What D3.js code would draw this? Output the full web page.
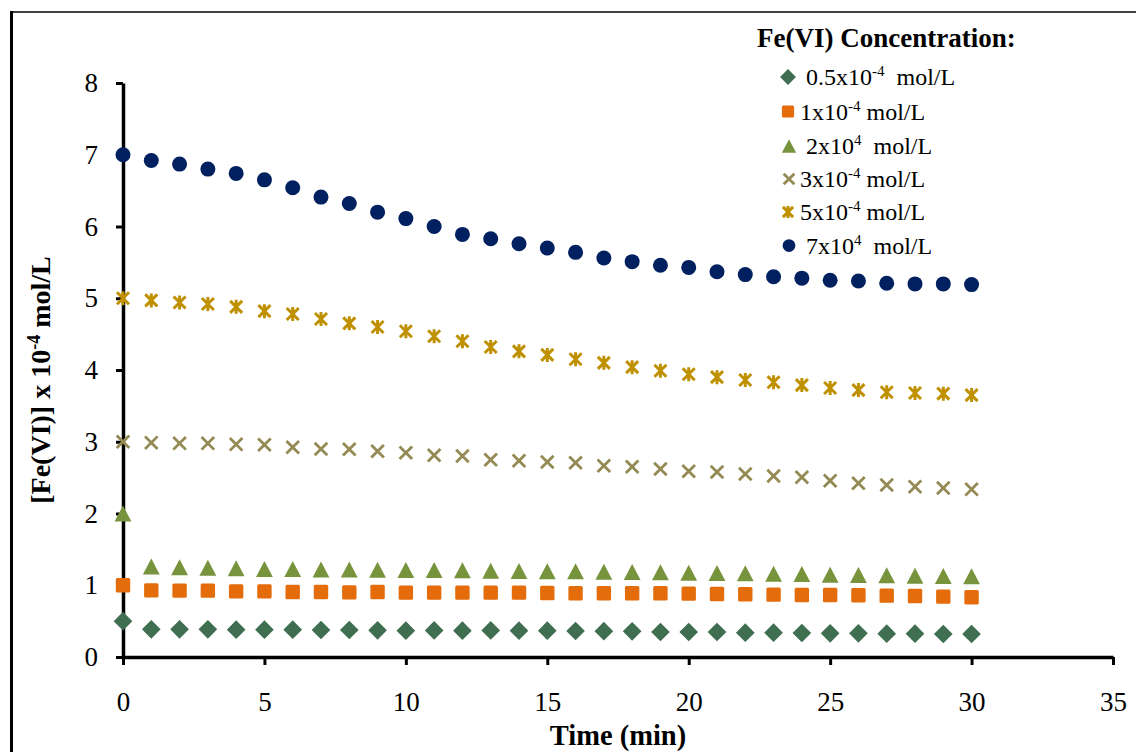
<!DOCTYPE html>
<html>
<head>
<meta charset="utf-8">
<script src="https://cdn.jsdelivr.net/npm/d3@7"></script>
<style>
  html, body { margin: 0; padding: 0; background: #fff; }
  svg { display: block; }
  text { font-family: "Liberation Serif", "Times New Roman", serif; fill: #000; }
</style>
</head>
<body>
<svg id="chart" width="1136" height="752"></svg>
<script>
// ---- data ----
const time = [0,1,2,3,4,5,6,7,8,9,10,11,12,13,14,15,16,17,18,19,20,21,22,23,24,25,26,27,28,29,30];
const c05 = [0.50,0.386,0.386,0.386,0.381,0.381,0.381,0.376,0.376,0.372,0.367,0.370,0.367,0.370,0.367,0.367,0.362,0.360,0.358,0.348,0.348,0.348,0.339,0.339,0.334,0.330,0.330,0.325,0.325,0.320,0.320];
const c1  = [1.00,0.929,0.925,0.925,0.915,0.915,0.906,0.906,0.901,0.906,0.897,0.897,0.897,0.897,0.897,0.892,0.888,0.888,0.888,0.888,0.883,0.878,0.874,0.869,0.864,0.864,0.860,0.855,0.850,0.841,0.832];
const c2  = [2.00,1.26,1.25,1.245,1.236,1.226,1.226,1.22,1.22,1.217,1.213,1.213,1.208,1.203,1.199,1.194,1.194,1.189,1.185,1.180,1.175,1.171,1.166,1.161,1.157,1.147,1.143,1.139,1.133,1.129,1.125];
const c3  = [3.00,2.987,2.978,2.978,2.964,2.959,2.923,2.899,2.895,2.867,2.847,2.811,2.801,2.749,2.735,2.718,2.708,2.666,2.652,2.620,2.588,2.578,2.551,2.523,2.505,2.457,2.421,2.397,2.374,2.355,2.337];
const c5  = [5.00,4.97,4.94,4.92,4.88,4.82,4.78,4.71,4.65,4.60,4.54,4.47,4.40,4.32,4.26,4.21,4.15,4.10,4.04,3.99,3.94,3.90,3.86,3.83,3.79,3.75,3.72,3.69,3.68,3.67,3.65];
const c7  = [7.00,6.92,6.87,6.80,6.74,6.65,6.54,6.41,6.32,6.20,6.11,6.00,5.89,5.83,5.76,5.70,5.64,5.56,5.51,5.46,5.43,5.37,5.33,5.30,5.28,5.25,5.24,5.21,5.20,5.20,5.19];

const xTicks = [0,5,10,15,20,25,30,35];
const yTicks = [0,1,2,3,4,5,6,7,8];

const seriesNames = ["0.5x10", "1x10", "2x10", "3x10", "5x10", "7x10"];
const seriesSup   = ["-4", "-4", "4", "-4", "-4", "4"];
const seriesLead  = [" ", "", " ", "", "", " "];
const seriesTail  = ["  mol/L", " mol/L", "  mol/L", " mol/L", " mol/L", "  mol/L"];
const seriesValues = [c05, c1, c2, c3, c5, c7];
const seriesColors = ["#3F6E50", "#E46C0A", "#77933C", "#948A54", "#BF9000", "#002060"];
const seriesShapes = ["diamond", "square", "triangle", "x", "star", "circle"];

// ---- layout ----
const svg = d3.select("#chart");
const x = d3.scaleLinear().domain([0, 35]).range([123, 1113]);
const y = d3.scaleLinear().domain([0, 8]).range([657, 83]);

// outer frame
svg.append("line").attr("x1", 11.5).attr("x2", 11.5).attr("y1", 11).attr("y2", 760)
  .attr("stroke", "#000").attr("stroke-width", 3);
svg.append("line").attr("x1", 10).attr("x2", 1140).attr("y1", 12).attr("y2", 12)
  .attr("stroke", "#000").attr("stroke-width", 1.5);

// axes
const fontSize = 27;
const yAxis = svg.append("g").attr("transform", `translate(${x(0)},0)`)
  .call(d3.axisLeft(y).tickValues(yTicks).tickFormat(d3.format("d")).tickSize(7).tickSizeOuter(0).tickPadding(18));
const xAxis = svg.append("g").attr("transform", `translate(0,${y(0)})`)
  .call(d3.axisBottom(x).tickValues(xTicks).tickFormat(d3.format("d")).tickSize(8).tickSizeOuter(0).tickPadding(27));
[xAxis, yAxis].forEach(g => {
  g.select(".domain").attr("stroke", "#000").attr("stroke-width", 3.5);
  g.selectAll(".tick line").attr("stroke", "#000").attr("stroke-width", 3);
  g.selectAll(".tick text").attr("font-family", "Liberation Serif, Times New Roman, serif")
    .attr("font-size", fontSize).attr("fill", "#000");
});

// axis titles
svg.append("text").attr("x", 618).attr("y", 745).attr("text-anchor", "middle")
  .attr("font-size", 28.5).attr("font-weight", "bold").text("Time (min)");

const yt = svg.append("text").attr("transform", "translate(50,380) rotate(-90)")
  .attr("text-anchor", "middle").attr("font-size", 28).attr("font-weight", "bold")
  .style("white-space", "pre");
yt.append("tspan").text("[Fe(VI)] x 10");
yt.append("tspan").attr("font-size", 18).attr("dy", -10).text("-4");
yt.append("tspan").attr("dy", 10).text(" mol/L");

// ---- markers ----
function drawMarker(g, shape, color, s) {
  if (shape === "diamond") {
    g.append("rect").attr("x", -6.6*s).attr("y", -6.6*s).attr("width", 13.2*s).attr("height", 13.2*s)
      .attr("transform", "rotate(45)").attr("fill", color);
  } else if (shape === "square") {
    g.append("rect").attr("x", -7.2*s).attr("y", -7.2*s).attr("width", 14.4*s).attr("height", 14.4*s)
      .attr("rx", 1.5).attr("fill", color);
  } else if (shape === "triangle") {
    const p = d3.path();
    p.moveTo(0, -8*s); p.lineTo(8.4*s, 8*s); p.lineTo(-8.4*s, 8*s); p.closePath();
    g.append("path").attr("d", p.toString()).attr("fill", color);
  } else if (shape === "x") {
    const p = d3.path();
    p.moveTo(-6.3*s, -6.3*s); p.lineTo(6.3*s, 6.3*s);
    p.moveTo(-6.3*s, 6.3*s); p.lineTo(6.3*s, -6.3*s);
    g.append("path").attr("d", p.toString()).attr("stroke", color).attr("stroke-width", 2.8).attr("fill", "none");
  } else if (shape === "star") {
    const p = d3.path();
    p.moveTo(-6*s, -6*s); p.lineTo(6*s, 6*s);
    p.moveTo(-6*s, 6*s); p.lineTo(6*s, -6*s);
    p.moveTo(0, -7*s); p.lineTo(0, 7*s);
    g.append("path").attr("d", p.toString()).attr("stroke", color).attr("stroke-width", 3).attr("fill", "none");
  } else if (shape === "circle") {
    g.append("circle").attr("r", 7.5*s).attr("fill", color);
  }
}

seriesValues.forEach((vals, i) => {
  const layer = svg.append("g");
  vals.forEach((v, j) => {
    const g = layer.append("g").attr("transform", `translate(${x(time[j])},${y(v)})`);
    drawMarker(g, seriesShapes[i], seriesColors[i], 1);
  });
});

// ---- legend ----
svg.append("text").attr("x", 757).attr("y", 47).attr("font-size", 27).attr("font-weight", "bold")
  .text("Fe(VI) Concentration:");
const legendY = [77, 111.5, 146, 179, 212, 245.5];
const legendMX = [788, 788, 789, 789, 788, 789];
seriesNames.forEach((nm, i) => {
  const g = svg.append("g").attr("transform", `translate(${legendMX[i]},${legendY[i]})`);
  drawMarker(g, seriesShapes[i], seriesColors[i], 0.85);
  const t = svg.append("text").attr("x", 800).attr("y", legendY[i] + 8)
    .attr("font-size", 24).style("white-space", "pre");
  t.append("tspan").text(seriesLead[i] + nm);
  t.append("tspan").attr("font-size", 15).attr("dy", -9).text(seriesSup[i]);
  t.append("tspan").attr("dy", 9).text(seriesTail[i]);
});
</script>
</body>
</html>
